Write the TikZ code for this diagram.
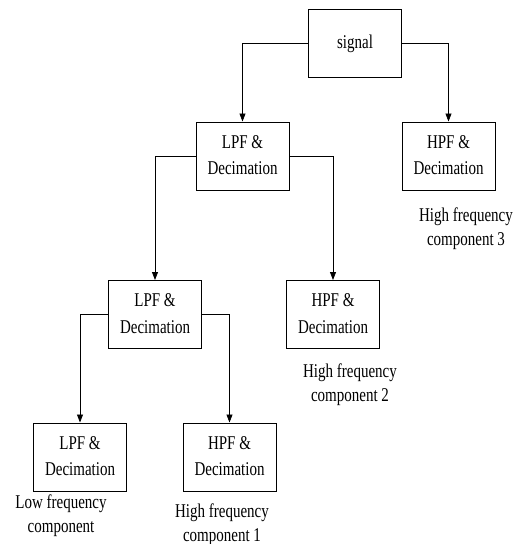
\documentclass[tikz,border=0pt]{standalone}
\usepackage{fontspec}
\usepackage{graphicx}
\setmainfont{Liberation Serif}
\usetikzlibrary{arrows.meta}
\newcommand{\talltext}[1]{\scalebox{1}[1.3]{\begin{tabular}{@{}c@{}}#1\end{tabular}}}
\begin{document}
\begin{tikzpicture}[x=1pt,y=-1pt,
  blk/.style={draw, line width=1pt, minimum width=93pt, minimum height=68pt, inner sep=0pt, align=center, font=\fontsize{15}{20.5}\selectfont},
  lbl/.style={align=center, font=\fontsize{15}{18}\selectfont, inner sep=0pt},
  conn/.style={line width=0.8pt, -{Triangle[width=6pt,length=8pt]}}]
\useasboundingbox (0,0) rectangle (527,544);
\node[blk] (sig) at (355,43) {\talltext{signal}};
\node[blk] (lpfa) at (242.5,156) {\talltext{LPF \&\\Decimation}};
\node[blk] (hpfa) at (448.5,156) {\talltext{HPF \&\\Decimation}};
\node[blk] (lpfb) at (155,314.5) {\talltext{LPF \&\\Decimation}};
\node[blk] (hpfb) at (333,314.5) {\talltext{HPF \&\\Decimation}};
\node[blk] (lpfc) at (80,457) {\talltext{LPF \&\\Decimation}};
\node[blk] (hpfc) at (229.5,457) {\talltext{HPF \&\\Decimation}};
\node[lbl] (l3) at (466,229) {\talltext{High frequency\\component 3}};
\node[lbl] (l2) at (350,385) {\talltext{High frequency\\component 2}};
\node[lbl] (l1) at (222,525) {\talltext{High frequency\\component 1}};
\node[lbl] (l0) at (61,516) {\talltext{Low frequency\\component}};
\draw[conn] (sig.west) -| (lpfa.north);
\draw[conn] (sig.east) -| (hpfa.north);
\draw[conn] (lpfa.west) -| (lpfb.north);
\draw[conn] (lpfa.east) -| (hpfb.north);
\draw[conn] (lpfb.west) -| (lpfc.north);
\draw[conn] (lpfb.east) -| (hpfc.north);
\end{tikzpicture}
\end{document}
